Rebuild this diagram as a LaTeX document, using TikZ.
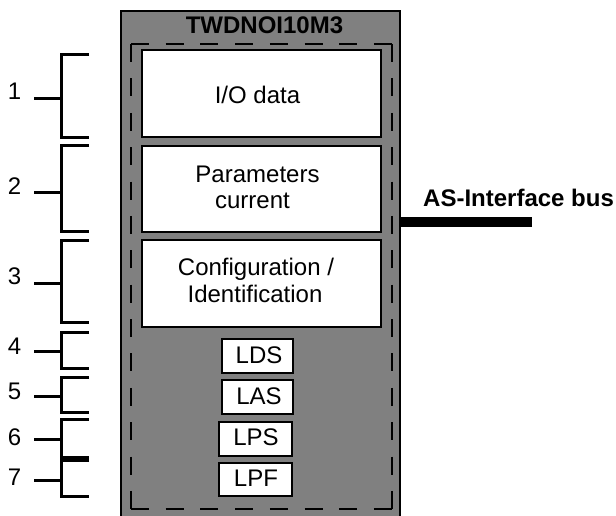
\documentclass[tikz,border=0pt]{standalone}
\usepackage{fontspec}
\setmainfont{Liberation Sans}
\definecolor{modgray}{HTML}{808080}
\begin{document}
\begin{tikzpicture}[x=1pt,y=-1pt,
  txt/.style={font=\fontsize{24}{26}\selectfont, inner sep=0pt, align=center},
  btxt/.style={font=\fontsize{24}{26}\selectfont\bfseries, inner sep=0pt},
  modbox/.style={draw=black, fill=modgray, line width=2pt, inner sep=0pt},
  whitebox/.style={draw=black, fill=white, line width=2pt, inner sep=0pt},
  smallbox/.style={draw=black, fill=white, line width=2pt, inner sep=0pt, minimum height=33.5},
  dashh/.style={draw=black, line width=2pt, line cap=square, dash pattern=on 18pt off 16.71pt},
  dashv/.style={draw=black, line width=2pt, line cap=square, dash pattern=on 18pt off 16.38pt},
  brk/.style={draw=black, line width=3pt},
  bus/.style={draw=black, line width=10pt}]
\useasboundingbox (0,0) rectangle (616,515);
\clip (0,0) rectangle (616,515);
% module
\node[modbox, minimum width=279, minimum height=520, anchor=north west] (module) at (120,10) {};
\node[btxt, anchor=base] (title) at (264.5,33) {TWDNOI10M3};
\coordinate (dtl) at (131,44);
\coordinate (dtr) at (392,44);
\coordinate (dbl) at (131,509);
\coordinate (dbr) at (392,509);
\draw[dashh] (dtl) -- (dtr);
\draw[dashh] (dbl) -- (dbr);
\draw[dashv] (dtl) -- (dbl);
\draw[dashv] (dtr) -- (dbr);
% big boxes
\node[whitebox, minimum width=239, minimum height=87] (io) at (261.5,93.5) {};
\node[txt, anchor=base] (iotxt) at (257.5,103) {I/O data};
\node[whitebox, minimum width=239, minimum height=86] (par) at (261.5,189) {};
\node[txt, anchor=base] (partxt1) at (257.5,182) {Parameters};
\node[txt, anchor=base] (partxt2) at (252.5,208) {current};
\node[whitebox, minimum width=239, minimum height=87] (conf) at (261.5,283.5) {};
\node[txt, anchor=base] (conftxt1) at (256,275.7) {Configuration /};
\node[txt, anchor=base] (conftxt2) at (255,302) {Identification};
% small boxes
\node[smallbox, minimum width=71] (lds) at (257.5,356) {};
\node[txt, anchor=base] at (259,363) {LDS};
\node[smallbox, minimum width=71] (las) at (257.5,397) {};
\node[txt, anchor=base] at (259,404) {LAS};
\node[smallbox, minimum width=73] (lps) at (255.5,439) {};
\node[txt, anchor=base] at (256,445) {LPS};
\node[smallbox, minimum width=73] (lpf) at (255.5,479.5) {};
\node[txt, anchor=base] at (256,486.5) {LPF};
% bus
\coordinate (busend) at (532,221.7);
\draw[bus] (busend -| module.east) -- (busend);
\node[btxt, anchor=base west] (buslbl) at (423,206.7) {AS-Interface bus};
% numbers
\node[txt, anchor=base] (n1) at (14.5,99) {1};
\node[txt, anchor=base] (n2) at (14.5,194) {2};
\node[txt, anchor=base] (n3) at (14.5,284) {3};
\node[txt, anchor=base] (n4) at (14.5,354) {4};
\node[txt, anchor=base] (n5) at (14.5,399) {5};
\node[txt, anchor=base] (n6) at (14.5,445) {6};
\node[txt, anchor=base] (n7) at (14.5,485) {7};
% brackets
\draw[brk] (89,54) -- (61,54) -- (61,137) -- (89,137);
\draw[brk] (34,98) -- (61,98);
\draw[brk] (89,145) -- (61,145) -- (61,231) -- (89,231);
\draw[brk] (34,192) -- (61,192);
\draw[brk] (89,240) -- (61,240) -- (61,322) -- (89,322);
\draw[brk] (34,283) -- (61,283);
\draw[brk] (89,332) -- (61,332) -- (61,368) -- (89,368);
\draw[brk] (34,351) -- (61,351);
\draw[brk] (89,377) -- (61,377) -- (61,412) -- (89,412);
\draw[brk] (34,396) -- (61,396);
\draw[brk] (89,419) -- (61,419) -- (61,457.5) -- (89,457.5);
\draw[brk] (34,439) -- (61,439);
\draw[brk] (89,460.5) -- (61,460.5) -- (61,496) -- (89,496);
\draw[brk] (34,480.5) -- (61,480.5);
\end{tikzpicture}
\end{document}
